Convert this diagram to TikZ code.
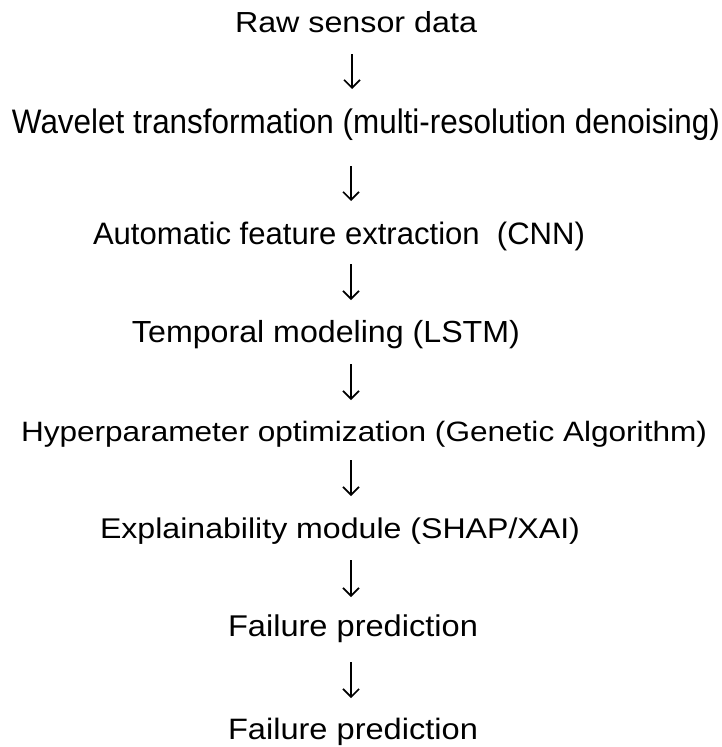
\documentclass[tikz,border=0pt]{standalone}
\usepackage{fontspec}
\setmainfont{Liberation Sans}
\usetikzlibrary{arrows.meta}
\newlength\fitlen
\newcommand\fitw[3]{\fontsize{#1}{#1}\selectfont\settowidth\fitlen{#3}\pgfmathsetmacro\fitfac{#2/\fitlen}\scalebox{\fitfac}[1]{#3}}
\tikzset{
  lbl/.style={anchor=base, inner sep=0pt, text=black},
  arr/.style={line width=1.6pt, -{Straight Barb[length=8pt,width=16pt]}}
}
\begin{document}
\begin{tikzpicture}[x=1pt,y=1pt]
\fill[white] (0,0) rectangle (721,-747);
\useasboundingbox (0,0) rectangle (721,-747);
\node[lbl] (l1) at (356,-32)  {\fitw{29pt}{242pt}{Raw sensor data}};
\node[lbl] (l2) at (366,-133) {\fitw{34pt}{708pt}{Wavelet transformation (multi-resolution denoising)}};
\node[lbl] (l3) at (339,-244) {\fitw{31pt}{492pt}{Automatic feature extraction\ \ (CNN)}};
\node[lbl] (l4) at (326,-342) {\fitw{30.5pt}{388pt}{Temporal modeling (LSTM)}};
\node[lbl] (l5) at (364,-441) {\fitw{28pt}{686pt}{Hyperparameter optimization (Genetic Algorithm)}};
\node[lbl] (l6) at (340,-538) {\fitw{28.5pt}{480pt}{Explainability module (SHAP/XAI)}};
\node[lbl] (l7) at (353,-636) {\fitw{30pt}{250pt}{Failure prediction}};
\node[lbl] (l8) at (353,-739) {\fitw{29.5pt}{250pt}{Failure prediction}};
\coordinate (a1t) at (352,-54);  \coordinate (a1b) at (352,-89);
\coordinate (a2t) at (351,-166); \coordinate (a2b) at (351,-201);
\coordinate (a3t) at (351,-264); \coordinate (a3b) at (351,-300);
\coordinate (a4t) at (351,-364); \coordinate (a4b) at (351,-400);
\coordinate (a5t) at (351,-460); \coordinate (a5b) at (351,-496);
\coordinate (a6t) at (351,-560); \coordinate (a6b) at (351,-597);
\coordinate (a7t) at (351,-662); \coordinate (a7b) at (351,-698);
\foreach \i in {1,...,7} {\draw[arr] (a\i t) -- (a\i b);}
\end{tikzpicture}
\end{document}
